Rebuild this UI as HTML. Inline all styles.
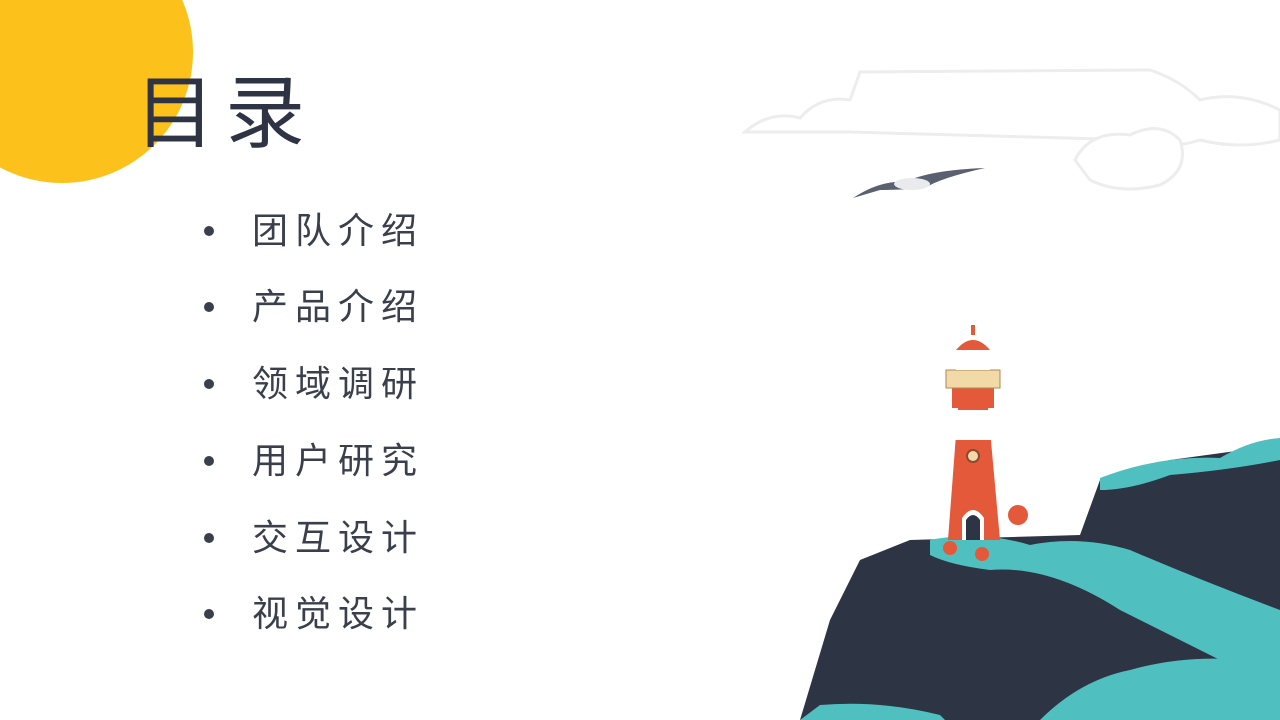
<!DOCTYPE html>
<html><head><meta charset="utf-8">
<style>
html,body{margin:0;padding:0;}
body{width:1280px;height:720px;position:relative;overflow:hidden;background:#fff;font-family:"Liberation Sans","Noto Sans CJK SC",sans-serif;}
.title{position:absolute;left:135px;top:66px;font-size:80px;color:#2f3444;letter-spacing:10px;line-height:96px;font-family:"Liberation Sans","WenQuanYi Zen Hei","Noto Sans CJK SC",sans-serif;}
.item{position:absolute;left:252px;font-size:36px;color:#3a3f4c;line-height:44px;letter-spacing:7px;}
.dot{position:absolute;left:204px;width:10px;height:10px;border-radius:50%;background:#3a3f4c;}
svg{position:absolute;left:0;top:0;}
</style></head><body>
<svg width="1280" height="720">
  <circle cx="62" cy="52" r="131" fill="#FCC11B"/>
  <g fill="#fff" stroke="#ededed" stroke-width="3">
    <path d="M745 132 Q770 110 800 118 Q820 95 850 100 L860 72 L1150 70 Q1180 80 1200 100 Q1240 90 1280 110 L1280 140 Q1240 150 1200 140 Q1170 150 1140 140 L850 132 Z"/>
    <path d="M1075 160 Q1090 130 1130 135 Q1160 120 1180 140 Q1190 170 1160 185 Q1120 195 1090 180 Z"/>
  </g>
  <g>
    <path d="M853 198 Q880 180 905 182 Q930 170 985 168 Q940 178 925 188 Q900 190 880 190 Z" fill="#5a6070"/>
    <ellipse cx="912" cy="184" rx="18" ry="6" fill="#e9eaee"/>
  </g>
  <g>
    <path d="M800 720 L830 620 L860 560 L910 540 L1080 535 L1100 480 L1170 460 L1280 445 L1280 720 Z" fill="#2d3444"/>
    <path d="M930 540 Q980 530 1030 545 Q1080 535 1130 550 Q1200 580 1280 610 L1280 690 Q1200 650 1120 610 Q1050 565 990 570 Q950 565 930 555 Z" fill="#4fbfbf"/>
    <path d="M1100 478 Q1160 455 1220 458 Q1250 440 1280 438 L1280 460 Q1230 470 1170 475 Q1130 490 1100 490 Z" fill="#4fbfbf"/>
    <path d="M1040 720 Q1080 680 1130 670 Q1200 650 1280 665 L1280 720 Z" fill="#4fbfbf"/>
    <path d="M800 720 L820 705 Q880 700 940 715 L945 720 Z" fill="#4fbfbf"/>
  </g>
  <g>
    <path d="M948 540 L958 408 L988 408 L1000 540 Z" fill="#e4593a"/>
    <rect x="955" y="410" width="36" height="30" fill="#fff"/>
    <rect x="952" y="388" width="42" height="20" fill="#e4593a"/>
    <rect x="946" y="370" width="54" height="18" fill="#f1d9a8" stroke="#b08650" stroke-width="1"/>
    <rect x="956" y="350" width="34" height="20" fill="#fff"/>
    <path d="M956 350 Q973 330 990 350 Z" fill="#e4593a"/>
    <rect x="971" y="325" width="4" height="10" fill="#e4593a"/>
    <circle cx="973" cy="456" r="6" fill="#f1d9a8" stroke="#8a4a30" stroke-width="2"/>
    <path d="M962 540 L962 518 Q973 502 984 518 L984 540 Z" fill="#fff"/>
    <path d="M966 540 L966 520 Q973 510 980 520 L980 540 Z" fill="#2d3444"/>
    <circle cx="1018" cy="515" r="10" fill="#e4593a"/>
    <circle cx="950" cy="548" r="7" fill="#e4593a"/>
    <circle cx="982" cy="554" r="7" fill="#e4593a"/>
  </g>
</svg>
<div class="title">目录</div>
<div class="dot" style="top:226px"></div>
<div class="item" style="top:209px">团队介绍</div>
<div class="dot" style="top:302px"></div>
<div class="item" style="top:285px">产品介绍</div>
<div class="dot" style="top:379px"></div>
<div class="item" style="top:362px">领域调研</div>
<div class="dot" style="top:456px"></div>
<div class="item" style="top:439px">用户研究</div>
<div class="dot" style="top:533px"></div>
<div class="item" style="top:516px">交互设计</div>
<div class="dot" style="top:609px"></div>
<div class="item" style="top:592px">视觉设计</div>
</body></html>
